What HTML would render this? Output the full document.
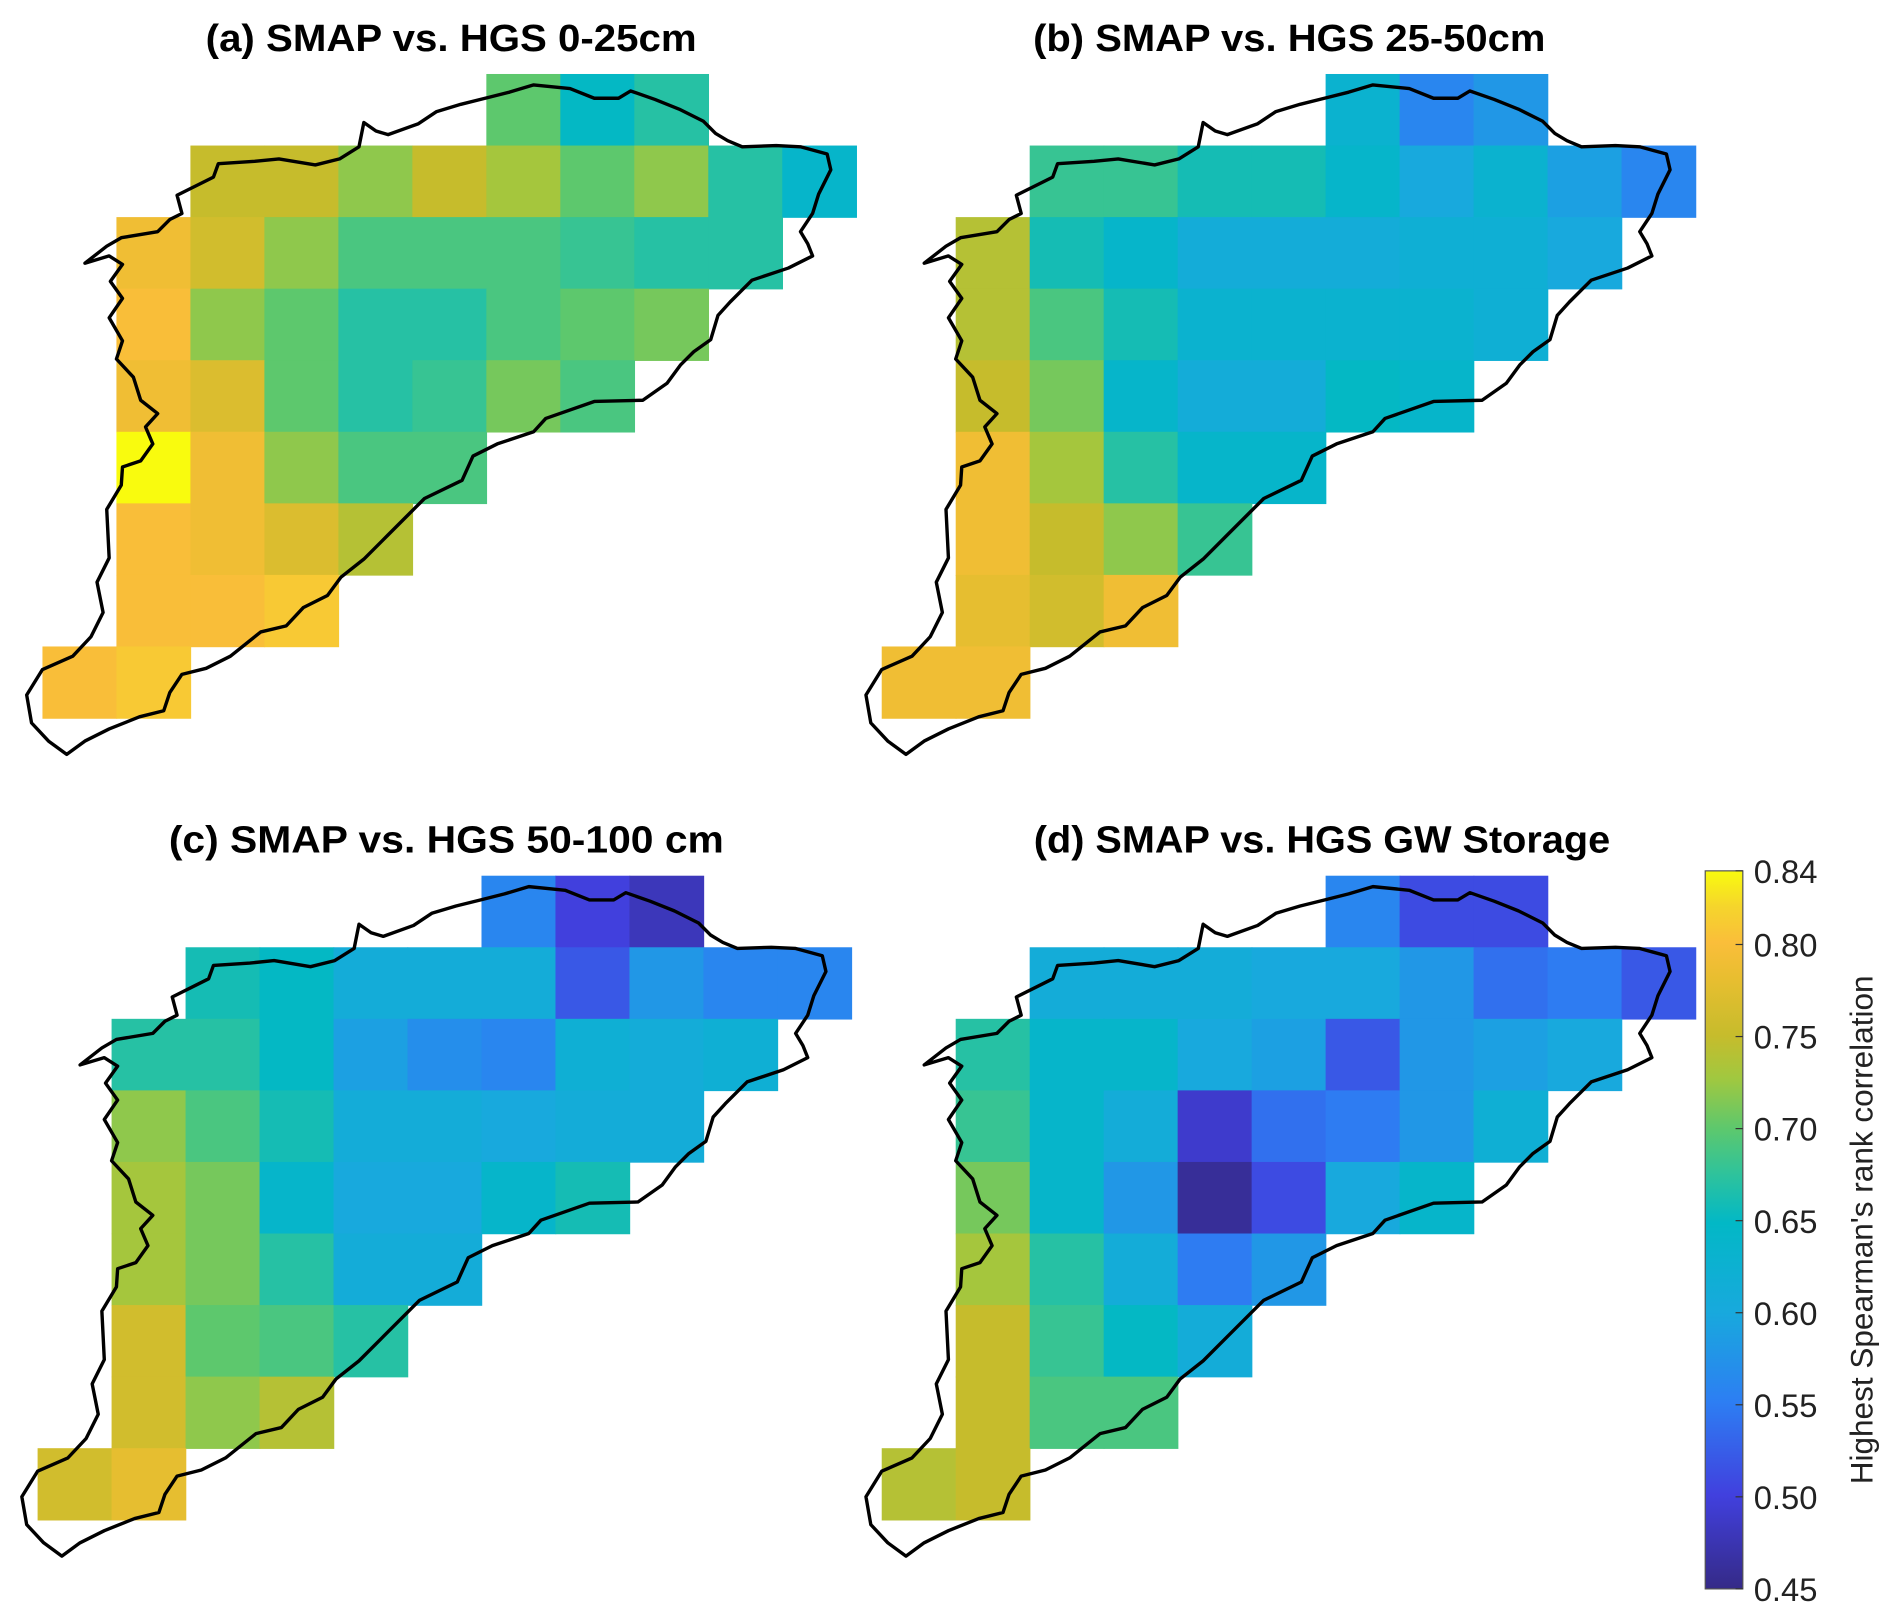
<!DOCTYPE html>
<html><head><meta charset="utf-8">
<style>
html,body{margin:0;padding:0;background:#fff;}
svg{display:block;}
text{font-family:"Liberation Sans",Arial,sans-serif;}
</style></head>
<body>
<svg id="fig" width="1892" height="1618" viewBox="0 0 1560 1334" preserveAspectRatio="none" xmlns="http://www.w3.org/2000/svg">
<g id="panels"></g>
<g id="cbar"></g>
</svg>
<script>
// ---- data ----
const panelTitles = ["(a) SMAP vs. HGS 0-25cm","(b) SMAP vs. HGS 25-50cm","(c) SMAP vs. HGS 50-100 cm","(d) SMAP vs. HGS GW Storage"];
const rowStartCol = [6,2,1,1,1,1,1,1,0];
const valuesA = [
 [0.70,0.65,0.67],
 [0.75,0.75,0.72,0.75,0.73,0.70,0.72,0.67,0.64],
 [0.79,0.76,0.72,0.69,0.69,0.69,0.68,0.67,0.67],
 [0.80,0.72,0.70,0.67,0.67,0.69,0.70,0.71],
 [0.79,0.77,0.70,0.67,0.68,0.71,0.69],
 [0.84,0.79,0.72,0.69,0.69],
 [0.80,0.79,0.77,0.74],
 [0.80,0.80,0.81],
 [0.80,0.81]];
const valuesB = [
 [0.63,0.56,0.58],
 [0.68,0.68,0.66,0.66,0.64,0.60,0.63,0.59,0.56],
 [0.74,0.66,0.64,0.61,0.61,0.61,0.62,0.62,0.60],
 [0.74,0.69,0.66,0.63,0.63,0.63,0.63,0.62],
 [0.75,0.71,0.64,0.61,0.61,0.65,0.64],
 [0.79,0.73,0.67,0.64,0.64],
 [0.79,0.75,0.72,0.68],
 [0.78,0.76,0.79],
 [0.79,0.79]];
const valuesC = [
 [0.56,0.50,0.48],
 [0.66,0.65,0.61,0.61,0.61,0.52,0.58,0.56,0.56],
 [0.67,0.67,0.65,0.59,0.57,0.56,0.62,0.61,0.62],
 [0.72,0.69,0.66,0.61,0.61,0.60,0.61,0.61],
 [0.73,0.71,0.64,0.60,0.60,0.64,0.66],
 [0.73,0.71,0.67,0.61,0.61],
 [0.76,0.70,0.69,0.67],
 [0.76,0.72,0.74],
 [0.76,0.78]];
const valuesD = [
 [0.56,0.51,0.51],
 [0.61,0.61,0.61,0.60,0.60,0.58,0.54,0.55,0.52],
 [0.67,0.64,0.64,0.60,0.59,0.52,0.58,0.59,0.60],
 [0.68,0.64,0.61,0.49,0.54,0.55,0.58,0.62],
 [0.71,0.64,0.58,0.46,0.51,0.60,0.64],
 [0.73,0.67,0.61,0.55,0.58],
 [0.75,0.68,0.65,0.61],
 [0.75,0.69,0.69],
 [0.74,0.75]];
const cbTicks = [0.45,0.50,0.55,0.60,0.65,0.70,0.75,0.80,0.84];
const cbMin = 0.45, cbMax = 0.84;

// ---- layout ----
const NS="http://www.w3.org/2000/svg";
const cellW=61, cellH=59;
const panelOrigins=[[35,61],[727,61],[31,722],[727,722]];
const titleCenters=[[372,42],[1063,42],[368,703],[1090,703]];
const panelData=[valuesA,valuesB,valuesC,valuesD];
const outline=[[22,573],[35,552],[60,541],[75,525],[85,505],[80,480],[90,460],[88,420],[100,400],[101,385],[116,380],[126,366],[120,352],[130,341],[116,330],[110,311],[96,296],[101,281],[90,262],[101,246],[91,232],[101,218],[90,211],[70,217],[88,203],[100,196],[130,191],[140,181],[150,176],[146,161],[176,146],[180,135],[210,133],[230,131],[260,136],[280,131],[296,121],[300,101],[310,108],[320,111],[345,102],[360,92],[380,86],[400,81],[420,76],[440,70],[470,73],[490,81],[510,81],[520,75],[540,82],[560,90],[580,100],[590,110],[600,116],[612,121],[640,120],[660,121],[682,127],[685,140],[675,160],[670,176],[660,191],[666,201],[670,211],[650,221],[620,231],[602,249],[592,260],[586,280],[572,290],[561,301],[550,316],[530,330],[490,331],[450,345],[440,356],[410,366],[390,376],[381,396],[350,411],[340,421],[320,441],[300,461],[281,476],[270,491],[250,501],[236,516],[215,521],[190,541],[170,551],[150,556],[140,571],[135,586],[115,591],[90,601],[70,611],[55,622],[40,611],[26,596]];

const stops=[[0,[53,42,135]],[0.13,[65,64,222]],[0.26,[45,126,243]],[0.385,[24,169,221]],[0.51,[2,184,198]],[0.58,[48,195,154]],[0.64,[92,200,110]],[0.71,[160,200,64]],[0.77,[198,188,44]],[0.85,[232,190,48]],[0.90,[250,190,58]],[0.95,[245,213,44]],[1,[249,251,14]]];
function color(v){
  let t=(v-cbMin)/(cbMax-cbMin); t=Math.max(0,Math.min(1,t));
  for(let i=1;i<stops.length;i++){ if(t<=stops[i][0]){
    const a=stops[i-1],b=stops[i],f=(t-a[0])/(b[0]-a[0]);
    const c=a[1].map((x,k)=>Math.round(x+(b[1][k]-x)*f));
    return `rgb(${c[0]},${c[1]},${c[2]})`; } }
  return "rgb(249,251,14)";
}
const panelsG=document.getElementById('panels');
panelData.forEach((vals,p)=>{
  const g=document.createElementNS(NS,'g');
  
  
  const [ox,oy]=panelOrigins[p];
  vals.forEach((row,r)=>{
    row.forEach((v,i)=>{
      const c=rowStartCol[r]+i;
      const rc=document.createElementNS(NS,'rect');
      rc.setAttribute('x',ox+c*cellW); rc.setAttribute('y',oy+r*cellH);
      rc.setAttribute('width',cellW+0.6); rc.setAttribute('height',cellH+0.6);
      rc.setAttribute('fill',color(v));
      
      
      g.appendChild(rc);
    });
  });
  const dx=ox-35, dy=oy-61;
  const pl=document.createElementNS(NS,'polygon');
  pl.setAttribute('points',outline.map(q=>(q[0]+dx)+','+(q[1]+dy)).join(' '));
  pl.setAttribute('fill','none'); pl.setAttribute('stroke','#000'); pl.setAttribute('stroke-width','2.8'); pl.setAttribute('stroke-linejoin','round');
  
  
  g.appendChild(pl);
  const tt=document.createElementNS(NS,'text');
  tt.setAttribute('x',titleCenters[p][0]); tt.setAttribute('y',titleCenters[p][1]);
  tt.setAttribute('text-anchor','middle'); tt.setAttribute('font-size','31'); tt.setAttribute('font-weight','bold');
  tt.setAttribute('textLength',panelTitles[p].length*17.6); tt.setAttribute('lengthAdjust','spacingAndGlyphs');
  tt.textContent=panelTitles[p];
  
  
  g.appendChild(tt);
  panelsG.appendChild(g);
});
// colorbar
const cb=document.getElementById('cbar');
const cbX=1406,cbY=718,cbW=31,cbH=592;
const defs=document.createElementNS(NS,'defs');
const lg=document.createElementNS(NS,'linearGradient');
lg.setAttribute('id','cbg');lg.setAttribute('x1','0');lg.setAttribute('y1','1');lg.setAttribute('x2','0');lg.setAttribute('y2','0');
stops.forEach(s=>{const st=document.createElementNS(NS,'stop');st.setAttribute('offset',s[0]);st.setAttribute('stop-color',`rgb(${s[1].join(',')})`);lg.appendChild(st);});
defs.appendChild(lg);cb.appendChild(defs);
const br=document.createElementNS(NS,'rect');
br.setAttribute('x',cbX);br.setAttribute('y',cbY);br.setAttribute('width',cbW);br.setAttribute('height',cbH);
br.setAttribute('fill','url(#cbg)');br.setAttribute('stroke','#555');br.setAttribute('stroke-width','1');


cb.appendChild(br);
function cy(v){return cbY+cbH-(v-cbMin)/(cbMax-cbMin)*cbH;}
cbTicks.forEach(v=>{
  const y=cy(v);
  const tk=document.createElementNS(NS,'line');
  tk.setAttribute('x1',cbX+cbW-6);tk.setAttribute('x2',cbX+cbW);tk.setAttribute('y1',y);tk.setAttribute('y2',y);tk.setAttribute('stroke','#333');
  
  
  cb.appendChild(tk);
  const t=document.createElementNS(NS,'text');
  t.setAttribute('x',cbX+cbW+9);t.setAttribute('y',y+10);t.setAttribute('font-size','27');t.setAttribute('fill','#222');
  t.textContent=v.toFixed(2);
  
  
  cb.appendChild(t);
});
const lab=document.createElementNS(NS,'text');
lab.setAttribute('transform','translate(1544,1014) rotate(-90)');lab.setAttribute('text-anchor','middle');lab.setAttribute('font-size','26');lab.setAttribute('fill','#222');
lab.textContent="Highest Spearman's rank correlation";


cb.appendChild(lab);
</script>
</body></html>
